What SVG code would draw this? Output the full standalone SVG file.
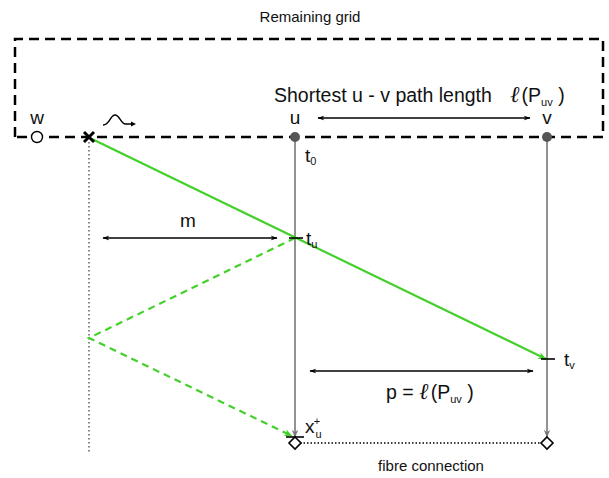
<svg xmlns="http://www.w3.org/2000/svg" width="609" height="478" viewBox="0 0 609 478">
<defs>
<style>
text{font-family:"Liberation Sans",Arial,sans-serif;fill:#111}
.lbl{font-size:19px}
.big{font-size:19.5px}
.sub{font-size:11px}
.ell{font-family:"DejaVu Serif",serif;font-style:italic;font-size:23px}
.dash{fill:none;stroke:#000;stroke-width:2.5;stroke-dasharray:10 6}
.gray{stroke:#777;stroke-width:1.6;fill:none}
.blk{stroke:#000;stroke-width:1.6;fill:none}
.green{stroke:#44d02a;stroke-width:2.2;fill:none}
.gdash{stroke:#44d02a;stroke-width:2.2;fill:none;stroke-dasharray:7 5}
</style>
<marker id="ab" viewBox="0 0 10 10" refX="9" refY="5" markerWidth="7" markerHeight="7" orient="auto-start-reverse" markerUnits="userSpaceOnUse"><path d="M0,1.5 L10,5 L0,8.5 L3,5 Z" fill="#000"/></marker>
<marker id="ag" viewBox="0 0 10 10" refX="9" refY="5" markerWidth="8" markerHeight="8" orient="auto" markerUnits="userSpaceOnUse"><path d="M0,1 L10,5 L0,9 L3,5 Z" fill="#777"/></marker>
<marker id="agr" viewBox="0 0 10 10" refX="9" refY="5" markerWidth="9" markerHeight="9" orient="auto" markerUnits="userSpaceOnUse"><path d="M0,1 L10,5 L0,9 L3,5 Z" fill="#44d02a"/></marker>
</defs>

<text x="310" y="22" text-anchor="middle" style="font-size:15px">Remaining grid</text>
<path class="dash" d="M15,137 L15,39 L603,39 L603,137 L15,137"/>

<g id="connectors">
<line x1="89" y1="142" x2="89" y2="452" stroke="#555" stroke-width="1.4" stroke-dasharray="1.5 2.5"/>
<line class="gray" x1="295" y1="137" x2="295" y2="437" marker-end="url(#ag)"/>
<line class="gray" x1="547" y1="137" x2="547" y2="437" marker-end="url(#ag)"/>
<line x1="300" y1="443" x2="542" y2="443" stroke="#000" stroke-width="1.4" stroke-dasharray="1.5 2"/>
<line class="green" x1="92" y1="139" x2="546" y2="359" marker-end="url(#agr)"/>
<polyline class="gdash" points="295,238 89,338 292,436" marker-end="url(#agr)"/>
<line class="blk" x1="318" y1="118" x2="530" y2="118" marker-start="url(#ab)" marker-end="url(#ab)"/>
<line class="blk" x1="103" y1="238" x2="277" y2="238" marker-start="url(#ab)" marker-end="url(#ab)"/>
<line class="blk" x1="310" y1="371" x2="533" y2="371" marker-start="url(#ab)" marker-end="url(#ab)"/>
<line class="blk" x1="289" y1="238" x2="303" y2="238"/>
<line class="blk" x1="541" y1="359" x2="555" y2="359"/>
<line class="blk" x1="286" y1="437" x2="304" y2="437"/>
<path d="M103,125 C110,125 110,115 115,115 C120,115 121,125 126,124 L133,124" stroke="#000" stroke-width="1.4" fill="none"/>
<path d="M136,124 L131,121.5 L131,126.5 Z" fill="#000"/>
</g>

<g id="node-w">
<circle cx="37" cy="137" r="5.5" fill="#fff" stroke="#000" stroke-width="1.4"/>
<text x="37" y="124" text-anchor="middle" class="lbl">w</text>
</g>
<g id="node-x">
<path d="M84,132 L94,142 M94,132 L84,142" stroke="#000" stroke-width="3"/>
</g>
<g id="node-u">
<circle cx="295" cy="137" r="5" fill="#555"/>
<text x="295" y="124" text-anchor="middle" class="lbl">u</text>
<text x="305" y="162" class="lbl">t<tspan class="sub" dy="3">0</tspan></text>
<text x="306" y="245" class="lbl">t<tspan class="sub" dy="3">u</tspan></text>
<text x="305" y="433" class="lbl">x<tspan class="sub" dx="1" dy="5">u</tspan><tspan class="sub" dx="-8" dy="-13">+</tspan></text>
<path d="M295,437 L301,443 L295,449 L289,443 Z" fill="#fff" stroke="#000" stroke-width="1.6"/>
</g>
<g id="node-v">
<circle cx="547" cy="137" r="5" fill="#555"/>
<text x="547" y="124" text-anchor="middle" class="lbl">v</text>
<text x="564" y="366" class="lbl">t<tspan class="sub" dy="3">v</tspan></text>
<path d="M547,437 L553,443 L547,449 L541,443 Z" fill="#fff" stroke="#000" stroke-width="1.6"/>
</g>

<text x="274" y="102" class="big">Shortest u - v path length</text>
<text x="510" y="102" class="big"><tspan class="ell">ℓ</tspan><tspan dx="2">(P</tspan><tspan class="sub" dy="4">uv</tspan><tspan dy="-4"> )</tspan></text>
<text x="188" y="227" text-anchor="middle" class="lbl">m</text>
<text x="386" y="399" class="big">p = <tspan class="ell">ℓ</tspan><tspan dx="2">(P</tspan><tspan class="sub" dy="4">uv</tspan><tspan dy="-4"> )</tspan></text>
<text x="431" y="471" text-anchor="middle" style="font-size:15px">fibre connection</text>
</svg>
